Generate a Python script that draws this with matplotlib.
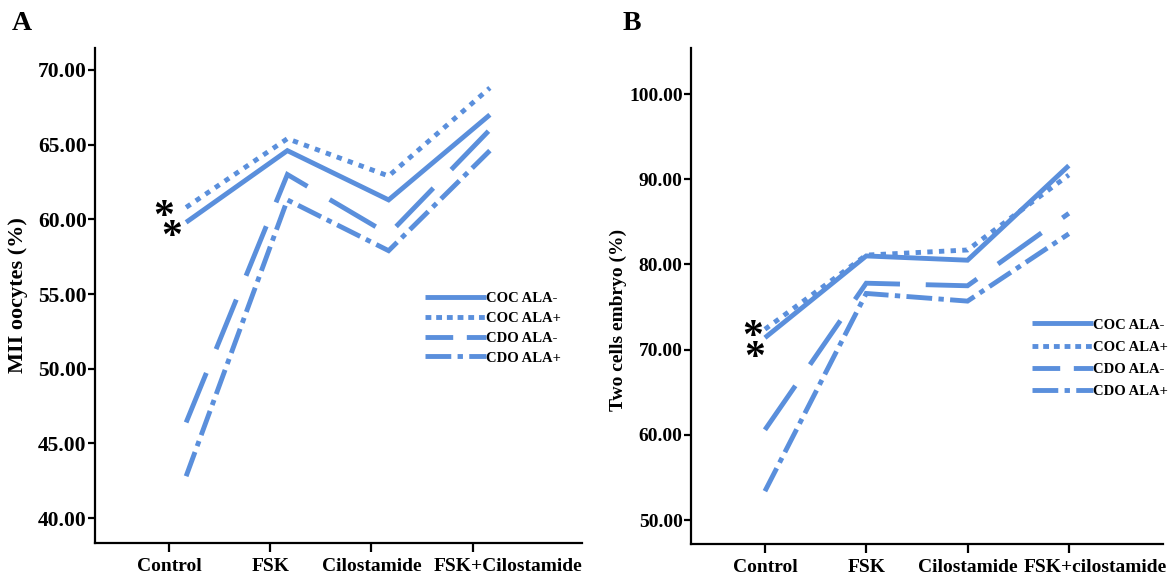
import matplotlib
matplotlib.use("Agg")
import matplotlib.pyplot as plt
import matplotlib.transforms as mtransforms
from matplotlib.lines import Line2D
import numpy as np

# Estilo
C_LINE = "#5A8FDC"
plt.rcParams.update({
    "font.family": "Liberation Serif",
    "font.weight": "bold",
    "axes.labelweight": "bold",
    "axes.spines.top": False,
    "axes.spines.right": False,
    "axes.linewidth": 1.6,
    "figure.facecolor": "white",
})

# Datos
series = ["COC ALA-", "COC ALA+", "CDO ALA-", "CDO ALA+"]

cats_a = ["Control", "FSK", "Cilostamide", "FSK+Cilostamide"]
coc_neg_a = [59.8, 64.6, 61.3, 67.0]
coc_pos_a = [60.8, 65.4, 62.9, 68.8]
cdo_neg_a = [46.4, 63.0, 59.0, 66.0]
cdo_pos_a = [42.8, 61.3, 57.9, 64.6]

cats_b = ["Control", "FSK", "Cilostamide", "FSK+cilostamide"]
coc_neg_b = [71.4, 81.0, 80.5, 91.6]
coc_pos_b = [72.4, 81.1, 81.7, 90.5]
cdo_neg_b = [60.6, 77.8, 77.5, 86.0]
cdo_pos_b = [53.4, 76.6, 75.7, 83.6]

yticks_a = [40, 45, 50, 55, 60, 65, 70]
yticks_b = [50, 60, 70, 80, 90, 100]

LW = 3.5
DASHES = [None, (1.1, 1.3), (11, 5.3), (5.3, 1.3, 1.1, 1.3)]
LEG_DASHES = [None, (1.2, 1.0), (5.7, 2.8), (5.3, 1.3, 1.1, 1.3)]


def style_line(line, dashes):
    if dashes is not None:
        line.set_dashes(dashes)
    line.set_solid_joinstyle("miter")
    line.set_dash_joinstyle("miter")
    line.set_dash_capstyle("butt")
    line.set_solid_capstyle("butt")


def draw_panel(ax, cats, data, yticks, ylim, xlim, shift, ylabel, label_fs,
               ytick_fs, last_dx, leg_anchor, leg_space, stars):
    x = np.arange(len(cats)) + shift
    for vals, dashes in zip(data, DASHES):
        ln, = ax.plot(x, vals, color=C_LINE, lw=LW)
        style_line(ln, dashes)

    ax.set_xlim(*xlim)
    ax.set_ylim(*ylim)
    ax.set_xticks(np.arange(len(cats)))
    ax.set_xticklabels(cats, fontsize=14, fontweight="bold")
    ax.set_yticks(yticks)
    ax.set_yticklabels([f"{v:.2f}" for v in yticks], fontsize=ytick_fs, fontweight="bold")
    ax.tick_params(axis="x", length=6.5, width=1.6, pad=4)
    ax.tick_params(axis="y", length=5, width=1.6, pad=1)
    ax.set_ylabel(ylabel, fontsize=label_fs, fontweight="bold")

    # ultima etiqueta desplazada a la derecha
    lab = ax.get_xticklabels()[-1]
    lab.set_transform(lab.get_transform() + mtransforms.ScaledTranslation(
        last_dx / 100, 0, ax.figure.dpi_scale_trans))

    handles = []
    for name, dashes in zip(series, LEG_DASHES):
        h = Line2D([], [], color=C_LINE, lw=LW)
        style_line(h, dashes)
        handles.append(h)
    ax.legend(handles, series, loc="upper left", bbox_to_anchor=leg_anchor,
              frameon=False, handlelength=4.2, handletextpad=0.0,
              labelspacing=leg_space, borderpad=0, borderaxespad=0,
              prop={"weight": "bold", "size": 10.5, "family": "Liberation Serif"})

    # Asteriscos
    for (idx, dx, dy) in stars:
        ax.annotate("*", xy=(x[0], data[idx][0]), xytext=(dx, dy),
                    textcoords="offset pixels", ha="center", va="center",
                    fontsize=30, fontweight="bold", color="black")


fig = plt.figure(figsize=(11.72, 5.75), dpi=100)
ax_a = fig.add_axes([95 / 1172, 32 / 575, 487 / 1172, 495 / 575])
ax_b = fig.add_axes([691 / 1172, 31 / 575, 472 / 1172, 496 / 575])

draw_panel(ax_a, cats_a, [coc_neg_a, coc_pos_a, cdo_neg_a, cdo_pos_a],
           yticks_a, (38.33, 71.47), (-0.73, 4.08), 0.17,
           "MII oocytes (%)", 16, 15.5, 35, (0.678, 0.507), 0.45,
           [(1, -22, -11), (0, -14, -16)])
draw_panel(ax_b, cats_b, [coc_neg_b, coc_pos_b, cdo_neg_b, cdo_pos_b],
           yticks_b, (47.2, 105.4), (-0.73, 3.93), 0.0,
           "Two cells embryo (%)", 14, 14, 26, (0.722, 0.455), 0.62,
           [(1, -12, -9), (0, -10, -21)])

ax_a.yaxis.set_label_coords(-0.138, 0.5)
ax_b.yaxis.set_label_coords(-0.136, 0.452)

fig.text(22 / 1172, 1 - 24 / 575, "A", fontsize=20, fontweight="bold", ha="center", va="center")
fig.text(632 / 1172, 1 - 24 / 575, "B", fontsize=20, fontweight="bold", ha="center", va="center")

fig.savefig("out.png", dpi=100)
plt.close()
